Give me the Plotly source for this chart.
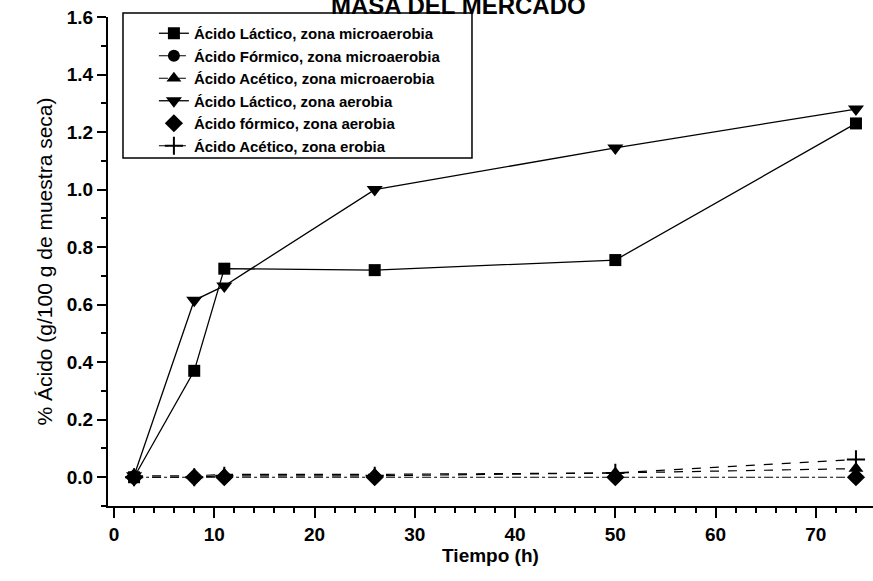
import plotly.graph_objects as go

# ---- data ----
tiempo_h = [2, 8, 11, 26, 50, 74]
lactico_micro = [0.0, 0.37, 0.725, 0.72, 0.755, 1.23]
formico_micro = [0.0, 0.0, 0.0, 0.0, 0.0, 0.0]
acetico_micro = [0.005, 0.005, 0.01, 0.01, 0.015, 0.03]
lactico_aero = [0.005, 0.615, 0.665, 1.0, 1.145, 1.28]
formico_aero = [0.0, 0.0, 0.0, 0.0, 0.0, 0.0]
acetico_aero = [0.0, 0.0, 0.005, 0.005, 0.015, 0.062]

names = [
    "Ácido Láctico, zona microaerobia",
    "Ácido Fórmico, zona microaerobia",
    "Ácido Acético, zona microaerobia",
    "Ácido Láctico, zona aerobia",
    "Ácido fórmico, zona aerobia",
    "Ácido Acético, zona erobia",
]
x_ticks = [0, 10, 20, 30, 40, 50, 60, 70]
y_ticks = [0.0, 0.2, 0.4, 0.6, 0.8, 1.0, 1.2, 1.4, 1.6]

FONT = "Liberation Sans, Arial, sans-serif"
BLACK = "black"

series = [
    (lactico_micro, "lines+markers", "solid", "square", 12, 1.3),
    (formico_micro, "lines+markers", "dashdot", "circle", 12, 1.2),
    (acetico_micro, "lines+markers", "dash", "triangle-up", 13, 1.2),
    (lactico_aero, "lines+markers", "solid", "triangle-down", 14, 1.3),
    (formico_aero, "markers", "solid", "diamond", 14, 1.2),
    (acetico_aero, "lines+markers", "dash", "cross-thin", 13, 1.2),
]

fig = go.Figure()
for (vals, mode, dash, sym, size, lw), name in zip(series, names):
    marker = dict(symbol=sym, size=size, color=BLACK)
    if sym == "cross-thin":
        marker["line"] = dict(color=BLACK, width=2)
    fig.add_trace(go.Scatter(
        x=tiempo_h, y=vals, name=name, mode=mode,
        line=dict(color=BLACK, width=lw, dash=dash),
        marker=marker,
    ))

fig.update_layout(
    width=873, height=581,
    margin=dict(l=108, r=0, t=17, b=75),
    paper_bgcolor="white", plot_bgcolor="white",
    font=dict(family=FONT, color=BLACK),
    showlegend=True,
    legend=dict(
        x=0.060, y=1.0, xanchor="left", yanchor="top",
        bgcolor="rgba(0,0,0,0)", borderwidth=0,
        font=dict(family=FONT, size=15, color=BLACK, weight="bold"),
        tracegroupgap=0,
    ),
    xaxis=dict(
        range=[-0.6, 75.7], tickvals=x_ticks,
        showline=True, linecolor=BLACK, linewidth=2,
        ticks="outside", ticklen=10, tickwidth=2, tickcolor=BLACK,
        minor=dict(ticks="outside", ticklen=5, tickwidth=1.5, tickcolor=BLACK, dtick=2, tick0=0),
        showgrid=False, zeroline=False,
        tickfont=dict(family=FONT, size=19, color=BLACK, weight="bold"),
        title=dict(text="Tiempo (h)", font=dict(family=FONT, size=19, color=BLACK, weight="bold"), standoff=1),
    ),
    yaxis=dict(
        range=[-0.1, 1.6], tickvals=y_ticks, tickformat=".1f",
        showline=True, linecolor=BLACK, linewidth=2,
        ticks="outside", ticklen=9, tickwidth=2, tickcolor=BLACK,
        minor=dict(ticks="outside", ticklen=5, tickwidth=1.5, tickcolor=BLACK, dtick=0.1, tick0=0),
        showgrid=False, zeroline=False,
        tickfont=dict(family=FONT, size=19, color=BLACK, weight="bold"),
        title=dict(text="% Ácido (g/100 g de muestra seca)", font=dict(family=FONT, size=21, color=BLACK), standoff=8),
    ),
    annotations=[dict(
        text="<b>MASA DEL MERCADO</b>", xref="paper", yref="paper",
        x=0.458, y=1.024, xanchor="center", yanchor="middle", showarrow=False,
        font=dict(family=FONT, size=24, color=BLACK),
    )],
    shapes=[dict(
        type="rect", xref="paper", yref="paper",
        x0=0.0196, x1=0.4758, y0=0.7117, y1=1.0082,
        line=dict(color=BLACK, width=1.5), fillcolor="rgba(0,0,0,0)", layer="above",
    )],
)

fig.write_html("out.html")
